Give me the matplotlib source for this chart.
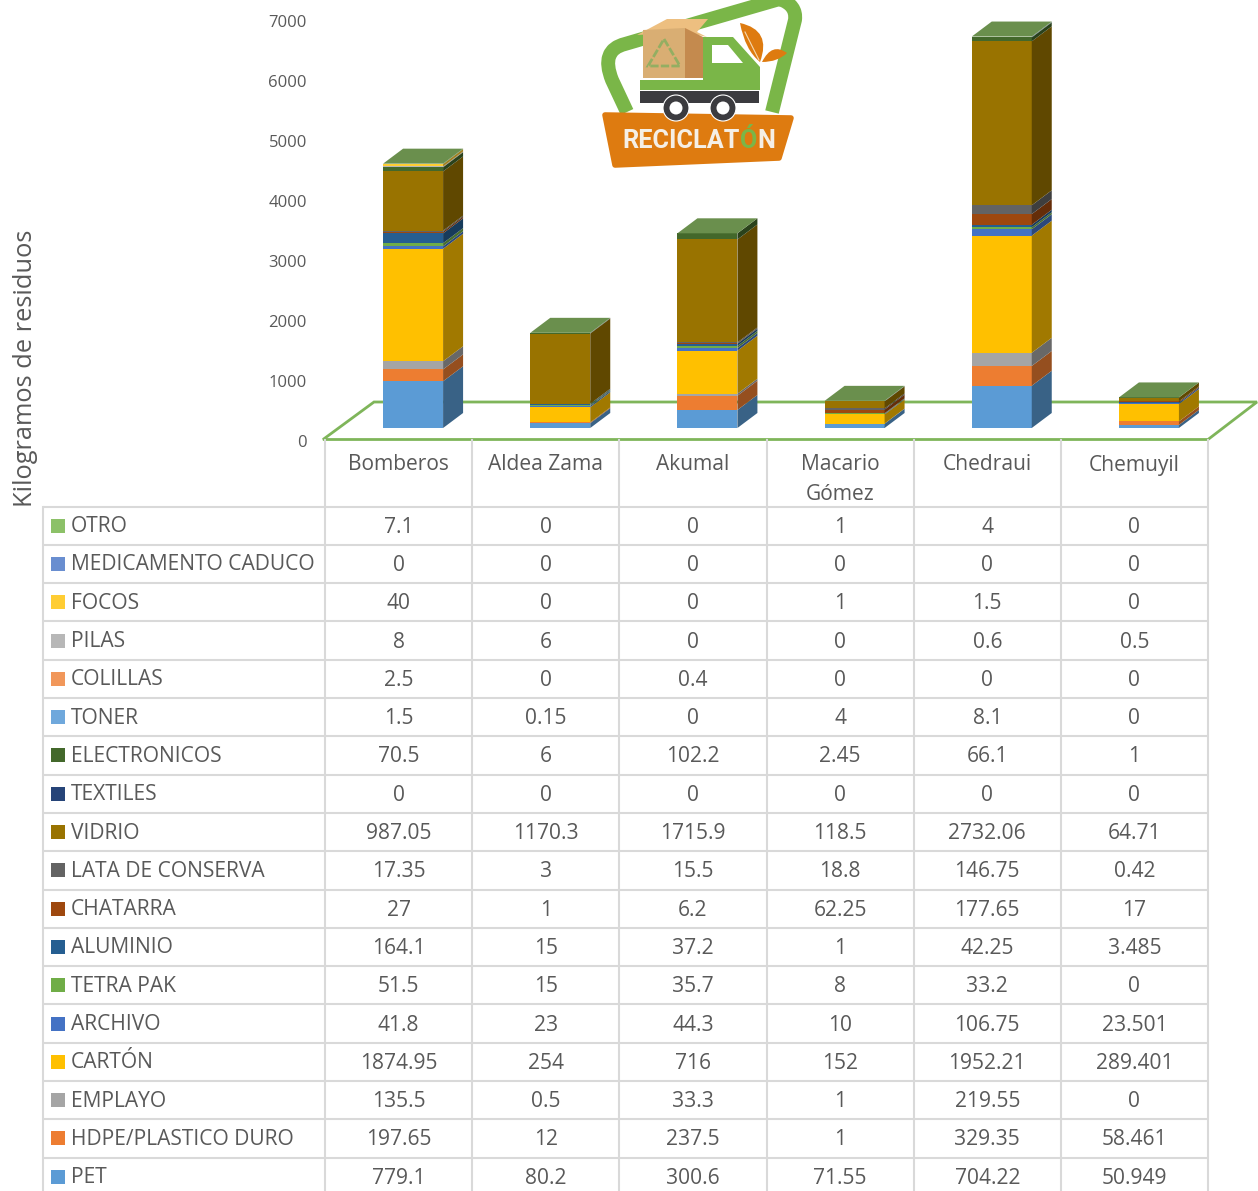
import matplotlib
matplotlib.use('Agg')
import matplotlib.pyplot as plt
import numpy as np
from matplotlib.colors import to_rgb
from matplotlib.patches import Polygon, PathPatch, Circle, Rectangle
from matplotlib.path import Path
from matplotlib.transforms import ScaledTranslation

W, H = 1258, 1191
plt.rcParams['font.family'] = ['Open Sans', 'DejaVu Sans']

# Datos de la tabla (de arriba hacia abajo, como en la figura)
sitios = ['Bomberos', 'Aldea Zama', 'Akumal', 'Macario\nGómez', 'Chedraui', 'Chemuyil']
materiales = ['OTRO', 'MEDICAMENTO CADUCO', 'FOCOS', 'PILAS', 'COLILLAS', 'TONER',
              'ELECTRONICOS', 'TEXTILES', 'VIDRIO', 'LATA DE CONSERVA', 'CHATARRA',
              'ALUMINIO', 'TETRA PAK', 'ARCHIVO', 'CARTÓN', 'EMPLAYO',
              'HDPE/PLASTICO DURO', 'PET']
otro = [7.1, 0, 0, 1, 4, 0]
medicamento = [0, 0, 0, 0, 0, 0]
focos = [40, 0, 0, 1, 1.5, 0]
pilas = [8, 6, 0, 0, 0.6, 0.5]
colillas = [2.5, 0, 0.4, 0, 0, 0]
toner = [1.5, 0.15, 0, 4, 8.1, 0]
electronicos = [70.5, 6, 102.2, 2.45, 66.1, 1]
textiles = [0, 0, 0, 0, 0, 0]
vidrio = [987.05, 1170.3, 1715.9, 118.5, 2732.06, 64.71]
lata = [17.35, 3, 15.5, 18.8, 146.75, 0.42]
chatarra = [27, 1, 6.2, 62.25, 177.65, 17]
aluminio = [164.1, 15, 37.2, 1, 42.25, 3.485]
tetra = [51.5, 15, 35.7, 8, 33.2, 0]
archivo = [41.8, 23, 44.3, 10, 106.75, 23.501]
carton = [1874.95, 254, 716, 152, 1952.21, 289.401]
emplayo = [135.5, 0.5, 33.3, 1, 219.55, 0]
hdpe = [197.65, 12, 237.5, 1, 329.35, 58.461]
pet = [779.1, 80.2, 300.6, 71.55, 704.22, 50.949]
filas = [otro, medicamento, focos, pilas, colillas, toner, electronicos, textiles, vidrio,
         lata, chatarra, aluminio, tetra, archivo, carton, emplayo, hdpe, pet]
colores = ['#8CC168', '#698ED0', '#FFCD33', '#B7B7B7', '#F1975A', '#6FA8DC',
           '#43682B', '#264478', '#997300', '#636363', '#9E480E',
           '#255E91', '#70AD47', '#4472C4', '#FFC000', '#A5A5A5', '#ED7D31', '#5B9BD5']
yticks = [0, 1000, 2000, 3000, 4000, 5000, 6000, 7000]

TXT = '#595959'
GRID = '#D9D9D9'
VERDE = '#7FB55A'

fig = plt.figure(figsize=(W / 100, H / 100), dpi=100)

# Grafica: eje x = sitio, eje y = kg
X0, X1, Y0, Y1 = 325, 1208, 440, 20
ax = fig.add_axes([X0 / W, 1 - Y0 / H, (X1 - X0) / W, (Y0 - Y1) / H])
ax.set_xlim(-0.5, 5.5)
ax.set_ylim(0, 7000)
ax.patch.set_alpha(0)
for s in ax.spines.values():
    s.set_visible(False)
ax.set_xticks([])
ax.set_yticks(yticks)
ax.tick_params(axis='y', length=0, pad=13, labelsize=12, labelcolor=TXT)
for lab in ax.get_yticklabels():
    lab.set_transform(lab.get_transform() + ScaledTranslation(0, -0.012, fig.dpi_scale_trans))
ax.set_ylabel('Kilogramos de residuos', fontsize=18.3, color=TXT)
ax.yaxis.set_label_coords((38 - X0) / (X1 - X0), (Y0 - 368) / (Y0 - Y1))

px_x = 6 / (X1 - X0)  # categorias por pixel
px_y = 7000 / (Y0 - Y1)  # kg por pixel
base = 12 * px_y
dx = 20 * px_x
dy = 15 * px_y
ancho = 60 * px_x
corr = 14.5 * px_x

# Piso
piso = [(-0.5 - 2 * px_x, 0.5 * px_y), (5.5, 0.5 * px_y), (5.5 + 49 * px_x, 38 * px_y), (-0.5 + 49 * px_x, 38 * px_y)]
ax.add_patch(Polygon(piso, closed=True, fill=False, ec=VERDE, lw=2, clip_on=False, zorder=1))


def oscurecer(c, f):
    return tuple(v * f for v in to_rgb(c))


x = np.arange(len(sitios)) + corr
acum = np.full(len(sitios), base)
for vals, color in zip(filas[::-1], colores[::-1]):
    vals = np.array(vals, dtype=float)
    ax.bar(x, vals, width=ancho, bottom=acum, color=color, lw=0, zorder=3, clip_on=False)
    lado = oscurecer(color, 0.63)
    for xi, b, v in zip(x, acum, vals):
        if v == 0:
            continue
        r = xi + ancho / 2
        ax.add_patch(Polygon([(r, b), (r + dx, b + dy), (r + dx, b + v + dy), (r, b + v)],
                             closed=True, fc=lado, lw=0, zorder=3, clip_on=False))
    acum = acum + vals
for xi, t in zip(x, acum):
    l, r = xi - ancho / 2, xi + ancho / 2
    ax.add_patch(Polygon([(l, t), (r, t), (r + dx, t + dy), (l + dx, t + dy)],
                         closed=True, fc='#6A8F4D', lw=0, zorder=4, clip_on=False))

# Capa en pixeles para tabla y logo
ov = fig.add_axes([0, 0, 1, 1])
ov.set_xlim(0, W)
ov.set_ylim(H, 0)
ov.axis('off')
ov.patch.set_alpha(0)

# Tabla
col_x = np.linspace(X0, X1, len(sitios) + 1)
y_top = 506.5
alto = 38.3
for i in range(len(filas) + 1):
    ov.plot([43, X1], [y_top + i * alto] * 2, color=GRID, lw=1.5, solid_capstyle='butt')
ov.plot([43, 43], [y_top, H], color=GRID, lw=1.5)
for cx in col_x:
    ov.plot([cx, cx], [Y0, H], color=GRID, lw=1.5)

FS = 15.1
for j, nombre in enumerate(sitios):
    xc = (col_x[j] + col_x[j + 1]) / 2
    for k, linea in enumerate(nombre.split('\n')):
        ov.text(xc, 470.5 + 29 * k, linea, ha='center', va='baseline', fontsize=FS, color=TXT)
for i, (mat, fila, color) in enumerate(zip(materiales, filas, colores)):
    yc = y_top + (i + 0.5) * alto
    ov.add_patch(Rectangle((51, yc - 7), 14, 14, fc=color, lw=0))
    ov.text(71, yc + 6.5, mat, ha='left', va='baseline', fontsize=FS, color=TXT)
    for j, v in enumerate(fila):
        xc = (col_x[j] + col_x[j + 1]) / 2
        ov.text(xc, yc + 7, str(v), ha='center', va='baseline', fontsize=FS, color=TXT)

# Logo
VL = '#7AB648'
NAR = '#DE7B10'
marco = Path([(627, 112), (612, 80), (600, 50), (625, 44), (700, 22), (790, -4), (797, 5), (795, 20), (772, 112)],
             [Path.MOVETO, Path.LINETO, Path.CURVE3, Path.CURVE3, Path.LINETO, Path.LINETO, Path.CURVE3, Path.CURVE3, Path.LINETO])
ov.add_patch(PathPatch(marco, fill=False, ec=VL, lw=10, capstyle='butt', joinstyle='round', zorder=5))
ov.add_patch(Polygon([(703, 37), (733, 37), (760, 67), (760, 90), (640, 90), (640, 80), (703, 80)], fc=VL, lw=0, zorder=6))
ov.add_patch(Polygon([(712, 45), (728, 45), (743, 63), (712, 63)], fc='white', lw=0, zorder=7))
ov.add_patch(Rectangle((640, 91), 119, 12, fc='#3B3B3F', lw=0, zorder=7))
for cx in [676, 723]:
    ov.add_patch(Circle((cx, 108), 13, fc='#3B3B3F', ec='white', lw=0.8, zorder=8))
    ov.add_patch(Circle((cx, 108), 6.5, fc='white', lw=0, zorder=9))
ov.add_patch(Polygon([(637, 35), (667, 19), (708, 19), (697, 32), (707, 37), (685, 32)], fc='#EDBF80', lw=0, zorder=7))
ov.add_patch(Polygon([(643, 30), (685, 28), (685, 78), (643, 78)], fc='#D9AE73', lw=0, zorder=8))
ov.add_patch(Polygon([(685, 28), (703, 37), (703, 78), (685, 78)], fc='#C48A4E', lw=0, zorder=8))
ov.add_patch(Polygon([(664, 39), (680, 66), (648, 66)], fill=False, ec='#93AE62', lw=2, ls=(0, (3, 0.8)), zorder=9))
hoja = Path([(740, 23), (772, 30), (760, 62), (745, 50), (740, 23)],
            [Path.MOVETO, Path.CURVE3, Path.CURVE3, Path.CURVE3, Path.CURVE3])
ov.add_patch(PathPatch(hoja, fc=NAR, lw=0, zorder=7))
ov.plot([745, 759], [32, 60], color='#F5D9B0', lw=0.8, zorder=8)
hoja2 = Path([(762, 62), (772, 42), (787, 53), (778, 62), (762, 62)],
             [Path.MOVETO, Path.CURVE3, Path.CURVE3, Path.CURVE3, Path.CURVE3])
ov.add_patch(PathPatch(hoja2, fc=NAR, lw=0, zorder=7))
ov.add_patch(Polygon([(605, 115), (791, 118), (779, 158), (615, 165)], fc=NAR, ec=NAR, lw=4, joinstyle='round', zorder=6))

# RECICLATÓN: se ajusta al ancho del logo y cada trozo sigue al anterior
fam = ['Liberation Sans Narrow', 'Roboto', 'DejaVu Sans']
rend = fig.canvas.get_renderer()
prueba = ov.text(622, 148, 'RECICLATÓN', fontsize=23, fontweight='bold', family=fam)
fs_logo = 23 * 153 / prueba.get_window_extent(rend).width
prueba.remove()
xt = 622
for trozo, col in [('RECICLAT', '#F5EFE6'), ('Ó', VL), ('N', '#F5EFE6')]:
    t = ov.text(xt, 148, trozo, ha='left', va='baseline', fontsize=fs_logo, fontweight='bold',
                color=col, family=fam, zorder=10)
    xt += t.get_window_extent(rend).width + 0.5

fig.savefig('out.png', dpi=100)
plt.close()
